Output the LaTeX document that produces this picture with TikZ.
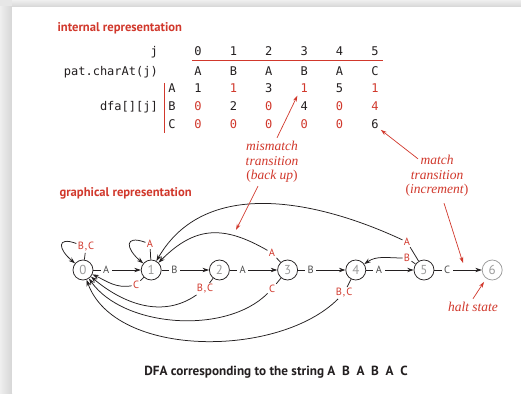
\documentclass[tikz,border=0pt]{standalone}
\usepackage{fontspec}
\usepackage{tikz}
\usetikzlibrary{arrows.meta,calc}
\setsansfont{PT Sans}
\setmonofont{DejaVu Sans Mono}
\newfontfamily\notefont{Liberation Serif}
\definecolor{ink}{HTML}{231F20}
\definecolor{inkgray}{HTML}{9B9B9B}
\definecolor{labgray}{HTML}{4D4D4D}
\definecolor{accentred}{HTML}{D1382C}
\definecolor{paper}{HTML}{FFFFFF}
\definecolor{shadowgray}{HTML}{D6D6D6}
\tikzset{
  dfaarr/.style={-{Stealth[length=6.5pt,width=4.4pt]},line width=0.75pt,color=ink},
  tickline/.style={line width=0.75pt,color=ink},
  notearr/.style={-{Stealth[length=6pt,width=3.8pt]},line width=0.7pt,color=accentred},
  statenode/.style={circle,draw=ink,line width=0.75pt,minimum size=20pt,inner sep=0pt,text=inkgray,font=\sffamily\fontsize{13}{13}\selectfont},
  haltnode/.style={statenode,draw=inkgray},
  matchlab/.style={fill=paper,inner sep=2.5pt,text=labgray,font=\sffamily\fontsize{10.5}{11}\selectfont},
  misslab/.style={inner sep=1.2pt,text=accentred,font=\sffamily\fontsize{10.5}{11}\selectfont},
  headtext/.style={anchor=west,text=accentred,font=\sffamily\bfseries\fontsize{12.6}{14}\selectfont},
  notetext/.style={align=center,text=accentred,font=\notefont\itshape\fontsize{13.5}{14.5}\selectfont},
  tabtext/.style={text=ink,font=\ttfamily\fontsize{12}{12}\selectfont,inner sep=0pt,anchor=base}
}

\begin{document}
\begin{tikzpicture}[x=1pt,y=1pt]
  \useasboundingbox (0,0) rectangle (521,393);
  % panel with its shadow
  \fill[shadowgray!60] (0,0) rectangle (521,393);
  \shade[left color=shadowgray!40,right color=shadowgray] (0,0) rectangle (12,386);
  \shade[top color=shadowgray!40,bottom color=shadowgray] (12,386) rectangle (521,393);
  \fill[paper] (12,0) rectangle (521,386);

  \node[headtext] (inthead) at (54,365) {internal representation};
  \node[headtext] (grahead) at (56,200) {graphical representation};

  % table
  \node[tabtext,anchor=base east] (jrow) at (158,337.5) {j};
  \node[tabtext,anchor=base east] (prow) at (158,317.5) {pat.charAt(j)};
  \node[tabtext,anchor=base east] (drow) at (158,282.5) {dfa[][j]};
  \foreach \v [count=\i from 0] in {0,...,5}
    \node[tabtext] (h\i) at ({198+35.4*\i},337.5) {\v};
  \foreach \v [count=\i from 0] in {A,B,A,B,A,C}
    \node[tabtext] (p\i) at ({198+35.4*\i},317.5) {\v};
  \foreach \v/\c [count=\i from 0] in {1/ink,1/accentred,3/ink,1/accentred,5/ink,1/accentred}
    \node[tabtext,text=\c] (a\i) at ({198+35.4*\i},300.5) {\v};
  \foreach \v/\c [count=\i from 0] in {0/accentred,2/ink,0/accentred,4/ink,0/accentred,4/accentred}
    \node[tabtext,text=\c] (b\i) at ({198+35.4*\i},282.5) {\v};
  \foreach \v/\c [count=\i from 0] in {0/accentred,0/accentred,0/accentred,0/accentred,0/accentred,6/ink}
    \node[tabtext,text=\c] (c\i) at ({198+35.4*\i},264.5) {\v};
  \node[tabtext] (ra) at (172,300.5) {A};
  \node[tabtext] (rb) at (172,282.5) {B};
  \node[tabtext] (rc) at (172,264.5) {C};
  \draw[accentred,line width=0.8pt] (192,332.5) -- (383,332.5);
  \draw[accentred,line width=0.8pt] (164,310) -- (164,260);

  % states and match transitions
  \foreach \i in {0,...,5}
    \node[statenode] (s\i) at ({83+68.2*\i},123) {\i};
  \node[haltnode] (s6) at (492.2,123) {6};
  \foreach \i/\j/\t in {0/1/A,1/2/B,2/3/A,3/4/B,4/5/A,5/6/C}
    \draw[dfaarr] (s\i) -- node[matchlab,pos=.27] (m\i) {\t} (s\j);

  % mismatch transitions
  \node[misslab] (l0) at (86,146) {B\kern1pt,\kern1pt C};
  \node[misslab] (l1a) at (150,149) {A};
  \node[misslab] (l1c) at (136,108) {C};
  \node[misslab] (l2) at (205,104) {B\kern1pt,\kern1pt C};
  \node[misslab] (l3a) at (272,140) {A};
  \node[misslab] (l3c) at (272,104) {C};
  \node[misslab] (l4) at (344,100) {B\kern1pt,\kern1pt C};
  \node[misslab] (l5a) at (407,151) {A};
  \node[misslab] (l5b) at (407,135) {B};
  \foreach \s/\l in {0/l0,1/l1a,1/l1c,2/l2,3/l3a,3/l3c,4/l4,5/l5a,5/l5b}
    \draw[tickline] (s\s) -- (\l);
  \draw[dfaarr] (l0) to[out=160,in=140,looseness=2.8] (s0);
  \draw[dfaarr] (l1a) to[out=160,in=140,looseness=2.8] (s1);
  \draw[dfaarr] (l1c) to[out=190,in=-25] (s0);
  \draw[dfaarr] (l2) to[out=215,in=-40] (s0);
  \draw[dfaarr] (l3c) to[out=225,in=-55,looseness=.85] (s0);
  \draw[dfaarr] (l4) to[out=225,in=-70,looseness=.85] (s0);
  \draw[dfaarr] (l3a) to[out=150,in=45,looseness=1.2] (s1);
  \draw[dfaarr] (l5a) to[out=155,in=60] (s1);
  \draw[dfaarr] (l5b) to[out=180,in=35] (s4);

  % notes
  \node[notetext] (mis) at (272,231) {mismatch\\transition\\\textup{(}back up\textup{)}};
  \node[notetext] (mat) at (437,217) {match\\transition\\\textup{(}increment\textup{)}};
  \node[notetext] (halt) at (473,86) {halt state};
  \coordinate (back) at (236,163);
  \coordinate (hit) at (463,130);
  \draw[notearr] ([xshift=5pt]mis.north) -- ([shift={(-3pt,-3pt)}]a3.south west);
  \draw[notearr] ([xshift=-14pt]mis.south) -- (back);
  \draw[notearr] ([xshift=-19pt,yshift=-7pt]mat.north) -- ([shift={(2pt,-1pt)}]c5.south east);
  \draw[notearr] ([xshift=7pt,yshift=-3pt]mat.south) -- (hit);
  \draw[notearr,shorten >=4pt] (halt.north) -- (s6.235);

  \node[text=ink,font=\sffamily\bfseries\fontsize{13.2}{15}\selectfont] (caption) at (276,21)
    {DFA corresponding to the string A\ \ B\ \ A\ \ B\ \ A\ \ C};
\end{tikzpicture}
\end{document}
